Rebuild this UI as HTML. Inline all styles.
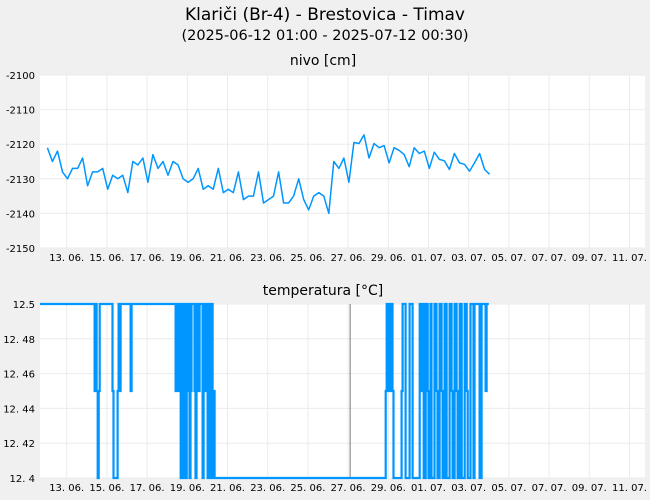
<!DOCTYPE html>
<html><head><meta charset="utf-8"><style>
body{margin:0;background:#f0f0f0;font-family:"DejaVu Sans","Liberation Sans",sans-serif;}
svg{display:block}
</style></head><body>
<svg id="c" width="650" height="500" xmlns="http://www.w3.org/2000/svg">
<rect width="650" height="500" fill="#f0f0f0"/>
<text x="325" y="20" text-anchor="middle" font-size="17" fill="#000">Klariči (Br-4) - Brestovica - Timav</text>
<text x="325" y="40" text-anchor="middle" font-size="14.5" fill="#000">(2025-06-12 01:00 - 2025-07-12 00:30)</text>
<text x="323" y="65" text-anchor="middle" font-size="14" fill="#000">nivo [cm]</text>
<text x="323" y="295" text-anchor="middle" font-size="14" fill="#000">temperatura [°C]</text>
<g id="p1"></g>
<g id="p2"></g>
</svg>
<script>
const xTickLabels=["13. 06.","15. 06.","17. 06.","19. 06.","21. 06.","23. 06.","25. 06.","27. 06.","29. 06.","01. 07.","03. 07.","05. 07.","07. 07.","09. 07.","11. 07."];
const xTickDays=[1,3,5,7,9,11,13,15,17,19,21,23,25,27,29];
const nivoTicks=[-2100,-2110,-2120,-2130,-2140,-2150];
const tempTicks=[12.5,12.48,12.46,12.44,12.42,12.4];
const tempTickLabels=["12.5","12. 48","12. 46","12. 44","12. 42","12. 4"];
// nivo values every 6 hours starting day 0.04 (days since 12.06 00:00)
const nivoStart=0.04;
const nivoValues=[-2121,-2125,-2122,-2128,-2130,-2127,-2127,-2124,-2132,-2128,-2128,-2127,-2133,-2129,-2130,-2129,-2134,-2125,-2126,-2124,-2131,-2123,-2127,-2125,-2129,-2125,-2126,-2130,-2131,-2130,-2127,-2133,-2132,-2133,-2127,-2134,-2133,-2134,-2128,-2136,-2135,-2135,-2128,-2137,-2136,-2135,-2128,-2137,-2137,-2135,-2130,-2136,-2139,-2135,-2134,-2135,-2140,-2125,-2127,-2124,-2131,-2119.5,-2119.8,-2117.3,-2124,-2119.8,-2121,-2120.4,-2125.4,-2121,-2121.8,-2123,-2126.5,-2121,-2122.7,-2122,-2127,-2122.3,-2124.4,-2124.8,-2127.3,-2122.7,-2125.4,-2125.8,-2127.8,-2125.4,-2122.7,-2127.3,-2128.7];
const tempTimes=[-0.35,2.39,2.44,2.49,2.54,2.59,2.64,3.28,3.33,3.53,3.58,3.63,3.68,4.18,4.23,6.42,6.47,6.57,6.62,6.67,6.72,6.77,6.82,6.87,6.92,6.97,7.01,7.06,7.11,7.16,7.21,7.36,7.41,7.46,7.56,7.61,7.76,7.81,7.86,7.96,8.01,8.06,8.11,8.16,8.21,8.26,8.31,8.36,16.87,16.92,16.97,17.01,17.06,17.11,17.21,17.26,17.66,17.71,17.86,18.06,18.21,18.56,18.61,18.66,18.76,18.86,18.96,19.00,19.10,19.15,19.30,19.40,19.45,19.55,19.65,19.70,19.80,19.90,20.05,20.15,20.20,20.30,20.40,20.45,20.55,20.65,20.80,20.90,20.95,21.09,21.24,21.29,21.54,21.64,21.84,21.89,22.0];
const tempVals=[12.5,12.45,12.5,12.45,12.4,12.45,12.5,12.45,12.4,12.45,12.5,12.45,12.5,12.45,12.5,12.45,12.5,12.45,12.5,12.4,12.5,12.45,12.4,12.5,12.4,12.5,12.45,12.5,12.4,12.45,12.5,12.45,12.4,12.5,12.45,12.5,12.4,12.45,12.5,12.45,12.4,12.5,12.4,12.45,12.5,12.4,12.45,12.4,12.45,12.5,12.45,12.5,12.45,12.5,12.45,12.4,12.45,12.5,12.4,12.5,12.4,12.5,12.45,12.5,12.4,12.5,12.45,12.4,12.5,12.4,12.5,12.45,12.4,12.5,12.45,12.4,12.5,12.4,12.5,12.45,12.4,12.5,12.45,12.4,12.5,12.4,12.5,12.45,12.4,12.5,12.4,12.5,12.4,12.5,12.45,12.5,12.5];

const NS="http://www.w3.org/2000/svg";
const X0=40,X1=645;
const xs=d=>66.7+(d-1)*20.1;
function mk(tag,attrs,parent){const e=document.createElementNS(NS,tag);for(const k in attrs)e.setAttribute(k,attrs[k]);parent.appendChild(e);return e;}
function panel(g,top,bot,ticks,labels,ymin,ymax){
  const ys=v=>bot-(v-ymin)/(ymax-ymin)*(bot-top);
  const r=mk('rect',{x:X0,y:top,width:X1-X0,height:bot-top,fill:'#fff'},g);
  
  
  ticks.forEach((t,i)=>{
    const l=mk('line',{x1:X0,x2:X1,y1:ys(t),y2:ys(t),stroke:'#ebebeb','stroke-width':1},g);
    
    
    const tx=mk('text',{x:35,y:ys(t)+4,'text-anchor':'end','font-size':10,fill:'#000'},g);
    tx.textContent=labels[i];
    
    
  });
  xTickDays.forEach((d,i)=>{
    const l=mk('line',{x1:xs(d),x2:xs(d),y1:top,y2:bot,stroke:'#ebebeb','stroke-width':1},g);
    
    
    const tx=mk('text',{x:xs(d),y:bot+13,'text-anchor':'middle','font-size':10,fill:'#000'},g);
    tx.textContent=xTickLabels[i];
    
    
  });
  return ys;
}
const g1=document.getElementById('p1'),g2=document.getElementById('p2');
const ys1=panel(g1,75,248,nivoTicks,nivoTicks.map(String),-2150,-2100);
let d='';
nivoValues.forEach((v,i)=>{const x=xs(nivoStart+i*0.25),y=ys1(v);d+=(i?' L':'M')+x.toFixed(1)+' '+y.toFixed(1);});
const p=mk('path',{d:d,fill:'none',stroke:'#0096ff','stroke-width':1.5,'stroke-linejoin':'round'},g1);



const ys2=panel(g2,304,478,tempTicks,tempTickLabels,12.4,12.5);
const gl=mk('line',{x1:xs(15.1),x2:xs(15.1),y1:304,y2:478,stroke:'#555','stroke-width':0.8},g2);


let d2='';
tempTimes.forEach((t,i)=>{const x=Math.max(X0,xs(t)),y=ys2(tempVals[i]);d2+=(i?(' H'+x.toFixed(1)+' V'+y.toFixed(1)):('M'+x.toFixed(1)+' '+y.toFixed(1)));});
const p2=mk('path',{d:d2,fill:'none',stroke:'#0096ff','stroke-width':2.2},g2);


</script>
</body></html>
